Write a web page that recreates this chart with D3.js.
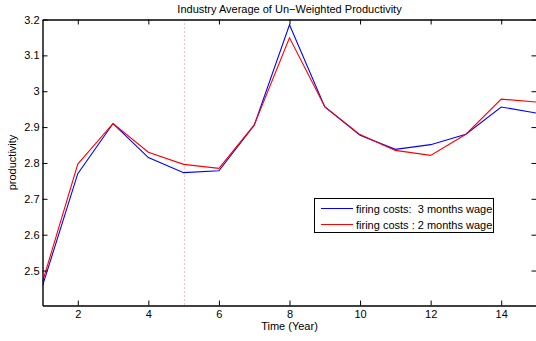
<!DOCTYPE html>
<html>
<head>
<meta charset="utf-8">
<script src="https://cdn.jsdelivr.net/npm/d3@7"></script>
<style>
  body { margin: 0; background: #fff; }
  svg text { font-family: "Liberation Sans", Arial, Helvetica, sans-serif; fill: #000; white-space: pre; }
</style>
</head>
<body>
<script>
// years on x axis
var years = [1, 2, 3, 4, 5, 6, 7, 8, 9, 10, 11, 12, 13, 14, 15];
// firing costs: 3 months wage (blue)
var threeMonths = [2.457, 2.770, 2.910, 2.815, 2.773, 2.778, 2.905, 3.185, 2.956, 2.877, 2.838, 2.851, 2.880, 2.956, 2.939];
// firing costs: 2 months wage (red)
var twoMonths = [2.468, 2.797, 2.910, 2.830, 2.796, 2.785, 2.906, 3.149, 2.957, 2.879, 2.835, 2.821, 2.880, 2.978, 2.970];

var xTicks = [2, 4, 6, 8, 10, 12, 14];
var yTicks = [2.5, 2.6, 2.7, 2.8, 2.9, 3, 3.1, 3.2];
var markerYear = 5;

var seriesNames = ["firing costs:  3 months wage", "firing costs : 2 months wage"];
var seriesColors = ["#0000ff", "#ff0000"];

var width = 536, height = 341;
var plotL = 42.5, plotR = 536.5, plotT = 19.5, plotB = 305.5;

var svg = d3.select("body").append("svg")
    .attr("width", width)
    .attr("height", height);

var xScale = d3.scaleLinear().domain([1, 15]).range([plotL, plotR]);
var yScale = d3.scaleLinear().domain([2.4025, 3.2]).range([plotB, plotT]);

// clip so lines stay inside the axes
svg.append("clipPath").attr("id", "plot")
    .append("rect")
    .attr("x", plotL).attr("y", plotT)
    .attr("width", plotR - plotL).attr("height", plotB - plotT);

// dotted marker line
var mx = Math.round(xScale(markerYear)) + 0.5;
svg.append("line")
    .attr("x1", mx).attr("x2", mx)
    .attr("y1", plotT).attr("y2", plotB)
    .attr("stroke", "#ff7f7f")
    .attr("stroke-width", 1)
    .attr("stroke-dasharray", "1,3");

var line = d3.line()
    .x((d, i) => xScale(years[i]))
    .y((d) => yScale(d));

var g = svg.append("g").attr("clip-path", "url(#plot)");
[threeMonths, twoMonths].forEach((s, i) => {
    g.append("path")
        .datum(s)
        .attr("d", line)
        .attr("fill", "none")
        .attr("stroke", seriesColors[i])
        .attr("stroke-width", 1.1);
});

// axes (MATLAB box with inward ticks)
var fmtY = (d) => String(+d.toFixed(1));
svg.append("g")
    .attr("transform", "translate(0," + plotB + ")")
    .call(d3.axisBottom(xScale).tickValues(xTicks).tickSizeInner(-5).tickSizeOuter(0).tickPadding(5));
svg.append("g")
    .attr("transform", "translate(0," + plotT + ")")
    .call(d3.axisTop(xScale).tickValues(xTicks).tickSizeInner(-5).tickSizeOuter(0).tickFormat(""));
svg.append("g")
    .attr("transform", "translate(" + plotL + ",0)")
    .call(d3.axisLeft(yScale).tickValues(yTicks).tickSizeInner(-5).tickSizeOuter(0).tickPadding(3).tickFormat(fmtY));
svg.append("g")
    .attr("transform", "translate(" + plotR + ",0)")
    .call(d3.axisRight(yScale).tickValues(yTicks).tickSizeInner(-5).tickSizeOuter(0).tickFormat(""));

svg.selectAll(".domain").attr("stroke", "#000").attr("stroke-width", 1.4);
svg.selectAll(".tick line").attr("stroke", "#000");
svg.selectAll(".tick text").attr("font-size", "11px")
    .attr("font-family", "Liberation Sans, Arial, sans-serif");

// title and labels
svg.append("text")
    .attr("x", (plotL + plotR) / 2).attr("y", 13)
    .attr("text-anchor", "middle")
    .attr("font-size", "11px")
    .text("Industry Average of Un\u2212Weighted Productivity");

svg.append("text")
    .attr("x", (plotL + plotR) / 2).attr("y", 330)
    .attr("text-anchor", "middle")
    .attr("font-size", "11px")
    .text("Time (Year)");

svg.append("text")
    .attr("transform", "translate(16," + ((plotT + plotB) / 2) + ") rotate(-90)")
    .attr("text-anchor", "middle")
    .attr("font-size", "11px")
    .text("productivity");

// legend
var legend = svg.append("g").attr("transform", "translate(314,198)");
legend.append("rect")
    .attr("x", 0.5).attr("y", 0.5)
    .attr("width", 179).attr("height", 34)
    .attr("fill", "#fff")
    .attr("stroke", "#000")
    .attr("stroke-width", 1);
seriesNames.forEach((name, i) => {
    var yy = 10.5 + i * 16;
    legend.append("line")
        .attr("x1", 7).attr("x2", 39)
        .attr("y1", yy).attr("y2", yy)
        .attr("stroke", seriesColors[i])
        .attr("stroke-width", 1);
    legend.append("text")
        .attr("x", 42).attr("y", yy + 4)
        .attr("font-size", "11px")
        .text(name);
});
</script>
</body>
</html>
